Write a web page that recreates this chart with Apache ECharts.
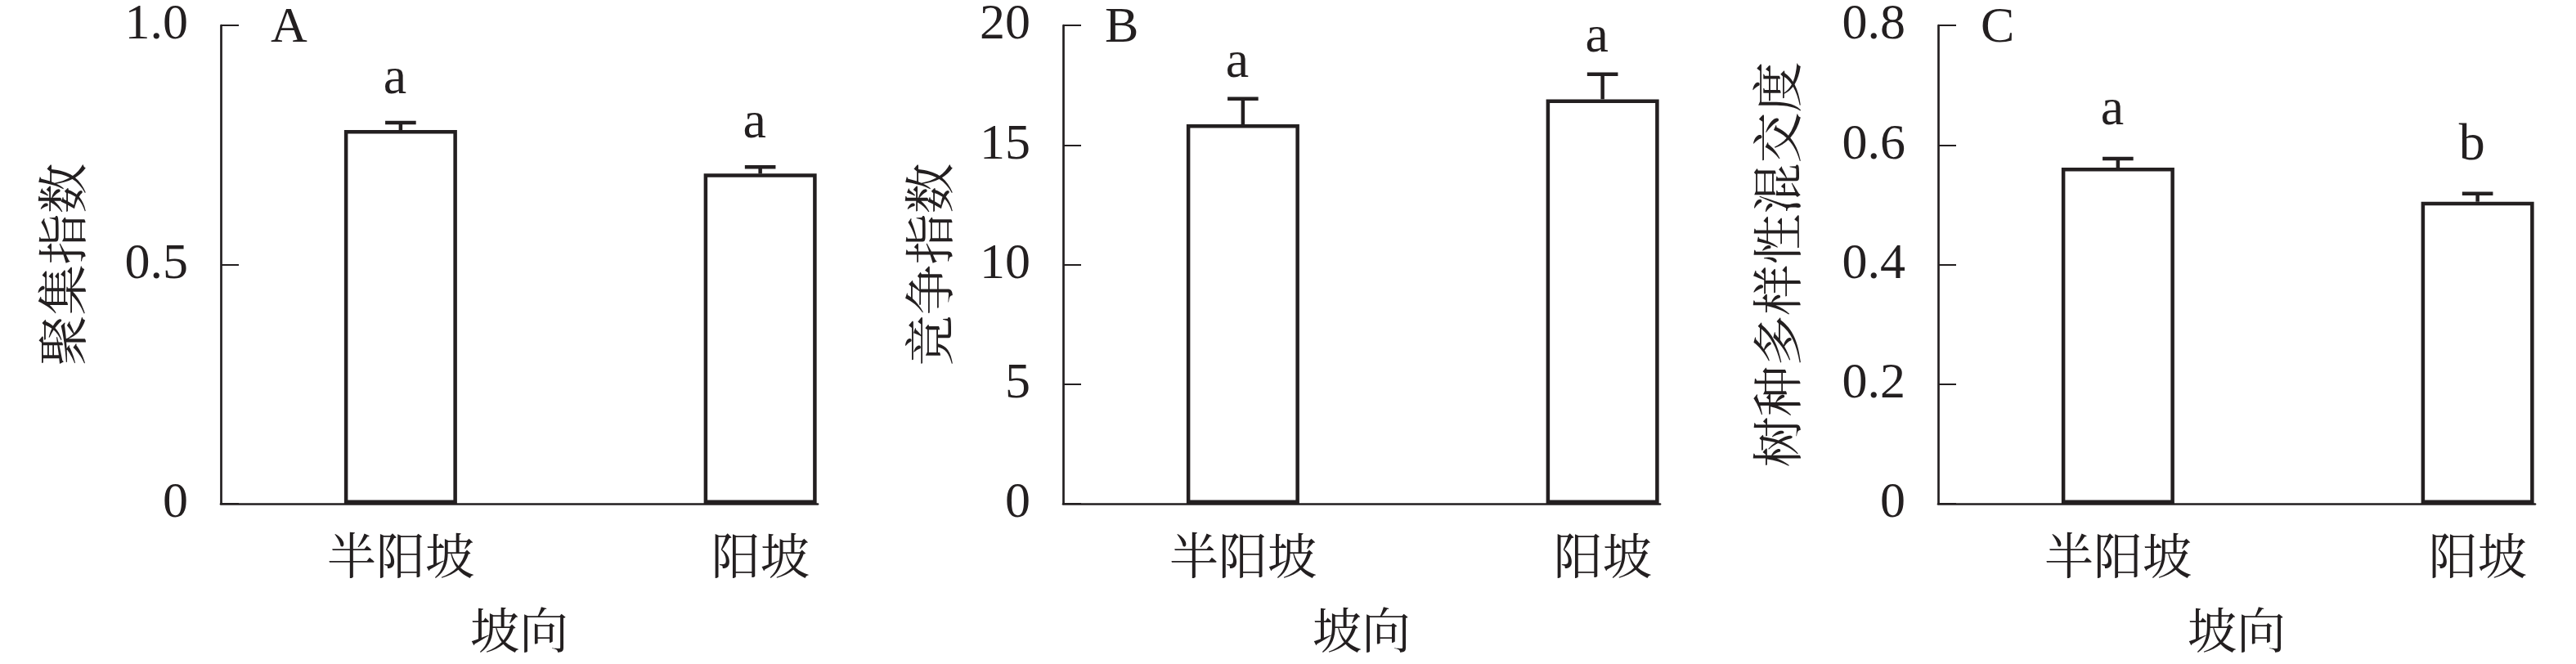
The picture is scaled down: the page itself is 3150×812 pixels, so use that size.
<!DOCTYPE html>
<html>
<head>
<meta charset="utf-8">
<script src="https://cdn.jsdelivr.net/npm/echarts@6/dist/echarts.min.js"></script>
<style>
html,body{margin:0;padding:0;background:#fff;}
#chart{width:3150px;height:812px;}
</style>
</head>
<body>
<div id="chart"></div>
<script>
// ---------- data ----------
const categories = ['半阳坡', '阳坡'];
const xAxisName = '坡向';

const aggName = '聚集指数';
const aggValues = [0.781, 0.690];
const aggErrors = [0.0155, 0.014];
const aggLetters = ['a', 'a'];
const aggTicks = ['0', '0.5', '1.0'];

const compName = '竞争指数';
const compValues = [15.86, 16.91];
const compErrors = [1.07, 1.05];
const compLetters = ['a', 'a'];
const compTicks = ['0', '5', '10', '15', '20'];

const mixName = '树种多样性混交度';
const mixValues = [0.562, 0.505];
const mixErrors = [0.015, 0.0135];
const mixLetters = ['a', 'b'];
const mixTicks = ['0', '0.2', '0.4', '0.6', '0.8'];

const panelLetters = ['A', 'B', 'C'];

// ---------- styling ----------
const INK = '#231f20';
const LATIN = '"Liberation Serif", "Times New Roman", serif';
const CJK = '"Liberation Serif", "Noto Serif CJK SC", "Noto Sans CJK SC", serif';

const panels = [
  {letter: panelLetters[0], name: aggName, values: aggValues, errors: aggErrors, letters: aggLetters,
   ticks: aggTicks, max: 1, interval: 0.5, left: 270, nameGap: 155, titleDx: 61, letterGap: 34},
  {letter: panelLetters[1], name: compName, values: compValues, errors: compErrors, letters: compLetters,
   ticks: compTicks, max: 20, interval: 5, left: 1300, nameGap: 125, titleDx: 51, letterGap: 25},
  {letter: panelLetters[2], name: mixName, values: mixValues, errors: mixErrors, letters: mixLetters,
   ticks: mixTicks, max: 0.8, interval: 0.2, left: 2370, nameGap: 158, titleDx: 52, letterGap: 40}
];

const GRID_TOP = 31, GRID_H = 591, GRID_W = 730;

const grid = [], xAxis = [], yAxis = [], series = [], graphic = [];

panels.forEach((p, k) => {
  grid.push({left: p.left, top: GRID_TOP, width: GRID_W, height: GRID_H, containLabel: false});
  xAxis.push({
    gridIndex: k, type: 'value', min: 0.5, max: 2.16, interval: 0.5,
    name: xAxisName, nameLocation: 'middle', nameGap: 131,
    nameTextStyle: {fontFamily: CJK, fontSize: 60, color: INK},
    axisLine: {show: true, lineStyle: {color: INK, width: 2.7}},
    axisTick: {show: false}, splitLine: {show: false},
    axisLabel: {
      margin: 40, fontFamily: CJK, fontSize: 60, color: INK,
      showMinLabel: true, showMaxLabel: true,
      formatter: v => (Math.abs(v - Math.round(v)) < 1e-6 && categories[Math.round(v) - 1]) ? categories[Math.round(v) - 1] : ''
    }
  });
  yAxis.push({
    gridIndex: k, type: 'value', min: 0, max: p.max, interval: p.interval,
    name: p.name, nameLocation: 'middle', nameGap: p.nameGap, nameRotate: 90,
    nameTextStyle: {fontFamily: CJK, fontSize: 62, color: INK},
    axisLine: {show: true, lineStyle: {color: INK, width: 2.7}},
    axisTick: {show: true, inside: true, length: 22, lineStyle: {color: INK, width: 2}},
    splitLine: {show: false},
    axisLabel: {margin: 40, fontFamily: LATIN, fontSize: 62, color: INK,
      formatter: (v, i) => p.ticks[i] !== undefined ? p.ticks[i] : ''}
  });
  series.push({
    type: 'bar', xAxisIndex: k, yAxisIndex: k, barWidth: 138,
    data: categories.map((c, i) => [i + 1, p.values[i]]),
    itemStyle: {color: '#fff', borderColor: INK, borderWidth: 4.5},
    silent: true, animation: false
  });
  series.push({
    type: 'custom', xAxisIndex: k, yAxisIndex: k, clip: false, animation: false, silent: true, z: 5,
    data: categories.map((c, i) => [i + 1, p.values[i], p.errors[i], i]),
    renderItem: (params, api) => {
      const x = api.value(0), v = api.value(1), e = api.value(2), idx = api.value(3);
      const base = api.coord([x, v]);
      const top = api.coord([x, v + e]);
      const cap = 18.8;
      return {
        type: 'group',
        children: [
          {type: 'line', shape: {x1: base[0], y1: base[1], x2: top[0], y2: top[1]},
           style: {stroke: INK, lineWidth: 4.5}},
          {type: 'line', shape: {x1: top[0] - cap, y1: top[1], x2: top[0] + cap, y2: top[1]},
           style: {stroke: INK, lineWidth: 4.5}},
          {type: 'text', x: top[0] - 7, y: top[1] - p.letterGap + 13,
           style: {text: p.letters[idx], fill: INK, fontFamily: LATIN, fontSize: 64,
                   align: 'center', verticalAlign: 'bottom'}}
        ]
      };
    }
  });
  graphic.push({
    type: 'text', left: p.left + p.titleDx, top: 4,
    style: {text: p.letter, fill: INK, fontFamily: LATIN, fontSize: 62}
  });
});

const chart = echarts.init(document.getElementById('chart'), null, {renderer: 'canvas'});
chart.setOption({
  backgroundColor: '#fff',
  animation: false,
  grid, xAxis, yAxis, series, graphic
});
</script>
</body>
</html>
